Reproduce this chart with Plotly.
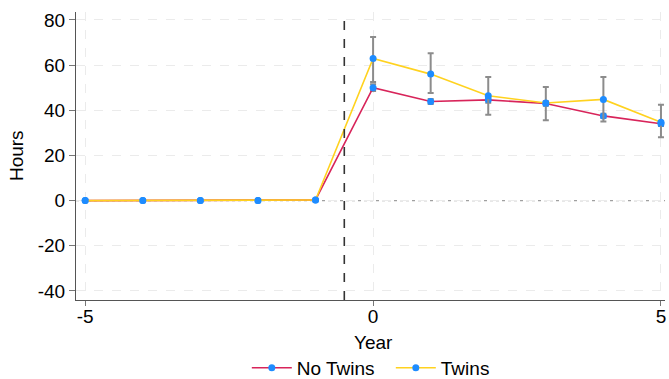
import plotly.graph_objects as go

years = [-5, -4, -3, -2, -1, 0, 1, 2, 3, 4, 5]
no_twins = [0.0, 0.0, 0.0, 0.0, 0.3, 50.0, 43.9, 44.6, 43.0, 37.5, 34.0]
no_twins_lo = [0.0, 0.0, 0.0, 0.0, 0.3, 48.5, 42.8, 43.3, 42.0, 36.6, 33.0]
no_twins_hi = [0.0, 0.0, 0.0, 0.0, 0.3, 51.5, 45.0, 45.9, 44.0, 38.4, 35.0]
twins = [0.0, 0.0, 0.0, 0.0, 0.3, 62.9, 56.0, 46.4, 43.2, 44.8, 34.7]
twins_lo = [0.0, 0.0, 0.0, 0.0, 0.3, 52.5, 47.6, 38.0, 35.6, 35.0, 28.1]
twins_hi = [0.0, 0.0, 0.0, 0.0, 0.3, 72.4, 65.2, 54.7, 50.3, 54.7, 42.4]
x_ticks = [-5, 0, 5]
x_ticklabels = ["-5", "0", "5"]
y_ticks = [-40, -20, 0, 20, 40, 60, 80]
y_ticklabels = ["-40", "-20", "0", "20", "40", "60", "80"]

FONT = "Liberation Sans, Arial, Helvetica, sans-serif"
BLUE = "#1E8CFF"

def ebars(v, lo, hi):
    return dict(type="data", symmetric=False,
                array=[h - x for x, h in zip(v, hi)],
                arrayminus=[x - l for x, l in zip(v, lo)],
                color="#8C8C8C", thickness=2, width=3)

fig = go.Figure()
fig.add_trace(go.Scatter(x=years, y=no_twins, name="No Twins", mode="lines+markers",
                         line=dict(color="#D8245A", width=1.6),
                         marker=dict(color=BLUE, size=7),
                         error_y=ebars(no_twins, no_twins_lo, no_twins_hi)))
fig.add_trace(go.Scatter(x=years, y=twins, name="Twins", mode="lines+markers",
                         line=dict(color="#FFD21F", width=1.6),
                         marker=dict(color=BLUE, size=7),
                         error_y=ebars(twins, twins_lo, twins_hi)))

fig.add_shape(type="line", xref="paper", yref="y", x0=0, x1=1, y0=0, y1=0,
              line=dict(color="#A0A0A0", width=1.2, dash="dot"), layer="below")
fig.add_shape(type="line", xref="x", yref="paper", x0=-0.5, x1=-0.5, y0=0, y1=1,
              line=dict(color="#333333", width=1.6, dash="dash"))

fig.add_annotation(text="Year", xref="x", yref="paper", x=0, y=-0.146,
                   xanchor="center", yanchor="middle", showarrow=False,
                   font=dict(size=19))
fig.add_annotation(text="Hours", xref="paper", yref="paper", x=-0.102, y=0.503,
                   xanchor="center", yanchor="middle", showarrow=False,
                   textangle=-90, font=dict(size=19))

fig.update_layout(
    width=669, height=379,
    margin=dict(l=76, r=4, t=12, b=79, autoexpand=False),
    plot_bgcolor="white", paper_bgcolor="white",
    font=dict(family=FONT, size=19, color="black"),
    showlegend=True,
    legend=dict(orientation="h", x=0.29, xanchor="left", xref="paper",
                y=-0.236, yanchor="middle", yref="paper",
                font=dict(size=19), itemwidth=40, entrywidth=89, traceorder="normal"),
    xaxis=dict(range=[-5.16, 5.07], tickvals=x_ticks, ticktext=x_ticklabels,
               showgrid=True, gridcolor="#EBEBEB", griddash="dash", gridwidth=1.2,
               showline=True, linecolor="#555555", linewidth=1.2,
               ticks="outside", ticklen=5, tickcolor="#777777",
               ticklabelstandoff=-6,
               zeroline=False, automargin=False),
    yaxis=dict(range=[-44, 83.5], tickvals=y_ticks, ticktext=y_ticklabels,
               showgrid=True, gridcolor="#EBEBEB", griddash="dash", gridwidth=1.2,
               showline=True, linecolor="#555555", linewidth=1.2,
               ticks="outside", ticklen=6, tickcolor="#777777",
               zeroline=False, automargin=False),
)

fig.write_html("out.html")
